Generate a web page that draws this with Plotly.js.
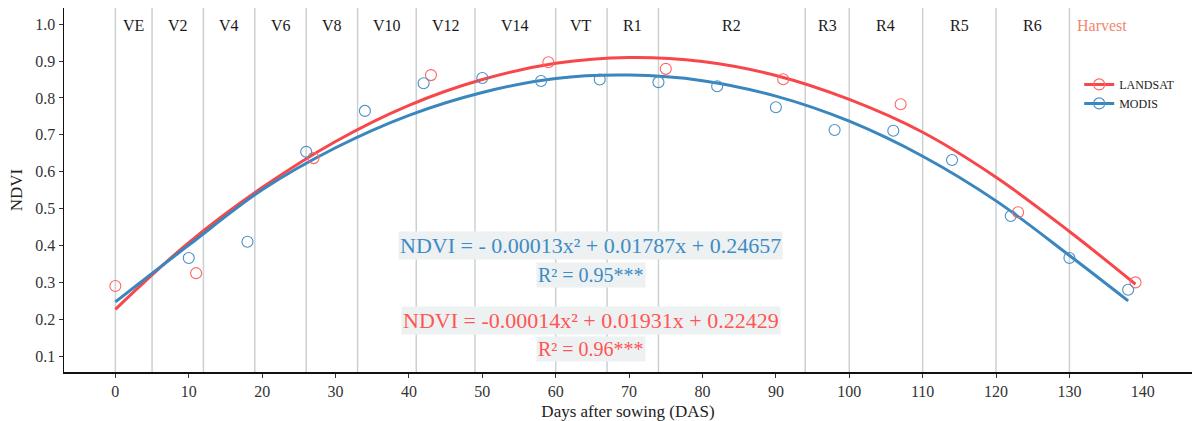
<!DOCTYPE html>
<html>
<head>
<meta charset="utf-8">
<script src="https://cdn.plot.ly/plotly-3.0.1.min.js"></script>
<style>
  html, body { margin: 0; padding: 0; background: #ffffff; }
  #chart { width: 1192px; height: 421px; }
</style>
</head>
<body>
<div id="chart"></div>
<script>
// ---- Data ----
const landsatDays = [0, 11, 27, 43, 59, 75, 91, 107, 123, 139];
const landsatNdvi = [0.290, 0.325, 0.637, 0.862, 0.897, 0.879, 0.851, 0.783, 0.490, 0.300];

const modisDays = [10, 18, 26, 34, 42, 50, 58, 66, 74, 82, 90, 98, 106, 114, 122, 130, 138];
const modisNdvi = [0.366, 0.410, 0.654, 0.765, 0.840, 0.854, 0.846, 0.850, 0.843, 0.832, 0.775, 0.713, 0.711, 0.632, 0.480, 0.366, 0.280];

// fitted curves
const landsatFitDays = [0, 10, 20, 30, 40, 50, 60, 70, 80, 90, 100, 110, 120, 130, 139];
const landsatFitNdvi = [0.227, 0.408, 0.557, 0.682, 0.780, 0.850, 0.894, 0.910, 0.899, 0.861, 0.796, 0.707, 0.585, 0.438, 0.295];

const modisFitDays = [0, 10, 20, 30, 40, 50, 60, 70, 80, 90, 100, 110, 120, 130, 138];
const modisFitNdvi = [0.247, 0.401, 0.551, 0.665, 0.753, 0.815, 0.853, 0.862, 0.847, 0.805, 0.737, 0.642, 0.521, 0.373, 0.250];

// growth stages
const stageBounds = [0, 5, 12, 19, 26, 33, 41, 49, 60, 67, 74, 94, 100, 110, 120, 130];
const stageLabels = ['VE', 'V2', 'V4', 'V6', 'V8', 'V10', 'V12', 'V14', 'VT', 'R1', 'R2', 'R3', 'R4', 'R5', 'R6', 'Harvest'];

const xTicks = [0, 10, 20, 30, 40, 50, 60, 70, 80, 90, 100, 110, 120, 130, 140];
const yTicks = [0.1, 0.2, 0.3, 0.4, 0.5, 0.6, 0.7, 0.8, 0.9, 1.0];

const modisEq = 'NDVI = - 0.00013x² + 0.01787x + 0.24657';
const modisR2 = 'R² = 0.95***';
const landsatEq = 'NDVI = -0.00014x² + 0.01931x + 0.22429';
const landsatR2 = 'R² = 0.96***';

// ---- Styling ----
const RED = '#F8474A';
const BLUE = '#3A86BE';
const RED_PT = '#FF6464';
const BLUE_PT = '#4A8FC4';
const FONT = 'Liberation Serif, Times New Roman, serif';

const traces = [
  { x: landsatFitDays, y: landsatFitNdvi, mode: 'lines', line: { color: RED, width: 3, shape: 'spline' },
    showlegend: false, hoverinfo: 'skip' },
  { x: modisFitDays, y: modisFitNdvi, mode: 'lines', line: { color: BLUE, width: 3, shape: 'spline' },
    showlegend: false, hoverinfo: 'skip' },
  { x: landsatDays, y: landsatNdvi, mode: 'markers', showlegend: false,
    marker: { symbol: 'circle-open', size: 11, color: RED_PT, line: { width: 1.1, color: RED_PT } } },
  { x: modisDays, y: modisNdvi, mode: 'markers', showlegend: false,
    marker: { symbol: 'circle-open', size: 11, color: BLUE_PT, line: { width: 1.1, color: BLUE_PT } } },
  // legend entries
  { x: [null], y: [null], name: 'LANDSAT', mode: 'lines+markers',
    line: { color: RED, width: 3 },
    marker: { symbol: 'circle-open', size: 11, color: RED_PT, line: { width: 1.1, color: RED_PT } } },
  { x: [null], y: [null], name: 'MODIS', mode: 'lines+markers',
    line: { color: BLUE, width: 3 },
    marker: { symbol: 'circle-open', size: 11, color: BLUE_PT, line: { width: 1.1, color: BLUE_PT } } }
];

const shapes = stageBounds.map(b => ({
  type: 'line', xref: 'x', yref: 'paper', x0: b, x1: b, y0: 0, y1: 1,
  line: { color: 'rgba(185,192,192,0.75)', width: 1.5 }, layer: 'below'
}));

const lastDay = Math.max(...landsatDays);
const annotations = stageLabels.map((lab, i) => {
  const x0 = stageBounds[i];
  const x1 = i + 1 < stageBounds.length ? stageBounds[i + 1] : lastDay;
  const isHarvest = lab === 'Harvest';
  return {
    x: (x0 + x1) / 2, y: 0.953, xref: 'x', yref: 'paper', text: lab, showarrow: false,
    font: { family: FONT, size: 16, color: isHarvest ? '#F4876C' : '#1a1a1a' },
    xanchor: 'center', yanchor: 'middle'
  };
});

const eqCenter = 64.8;
annotations.push(
  { x: eqCenter, y: 0.401, xref: 'x', yref: 'y', text: modisEq, showarrow: false,
    font: { family: FONT, size: 22, color: '#3D8CC4' }, bgcolor: '#EEF1F1', borderpad: 1 },
  { x: eqCenter, y: 0.320, xref: 'x', yref: 'y', text: modisR2, showarrow: false,
    font: { family: FONT, size: 20, color: '#3D8CC4' }, bgcolor: '#EEF1F1', borderpad: 1 },
  { x: eqCenter, y: 0.198, xref: 'x', yref: 'y', text: landsatEq, showarrow: false,
    font: { family: FONT, size: 22, color: '#FF5555' }, bgcolor: '#EEF1F1', borderpad: 1 },
  { x: eqCenter, y: 0.119, xref: 'x', yref: 'y', text: landsatR2, showarrow: false,
    font: { family: FONT, size: 20, color: '#FF5555' }, bgcolor: '#EEF1F1', borderpad: 1 }
);

const layout = {
  width: 1192, height: 421,
  margin: { l: 64, r: 0, t: 8, b: 49 },
  paper_bgcolor: '#ffffff', plot_bgcolor: '#ffffff',
  font: { family: FONT, color: '#333333' },
  xaxis: {
    range: [-7.0, 146.7], tickvals: xTicks, ticktext: xTicks.map(String),
    showgrid: false, zeroline: false, showline: true, linecolor: '#111111', linewidth: 1.5,
    ticks: 'outside', ticklen: 4, tickcolor: '#333333', tickwidth: 1,
    tickfont: { family: FONT, size: 16, color: '#333333' },
    title: { text: 'Days after sowing (DAS)', font: { family: FONT, size: 17, color: '#222222' }, standoff: 6 }
  },
  yaxis: {
    range: [0.057, 1.044], tickvals: yTicks, ticktext: yTicks.map(v => v.toFixed(1)),
    showgrid: false, zeroline: false, showline: true, linecolor: '#111111', linewidth: 1.5,
    ticks: 'outside', ticklen: 4, tickcolor: '#333333', tickwidth: 1,
    tickfont: { family: FONT, size: 16, color: '#333333' },
    title: { text: 'NDVI', font: { family: FONT, size: 17, color: '#222222' }, standoff: 8 }
  },
  legend: {
    x: 0.9, y: 0.83, xanchor: 'left', yanchor: 'top',
    bgcolor: 'rgba(255,255,255,0)', borderwidth: 0,
    font: { family: FONT, size: 12, color: '#222222' },
    itemwidth: 30, tracegroupgap: 4
  },
  shapes: shapes,
  annotations: annotations,
  showlegend: true
};

Plotly.newPlot('chart', traces, layout, { displayModeBar: false, staticPlot: true });
</script>
</body>
</html>
